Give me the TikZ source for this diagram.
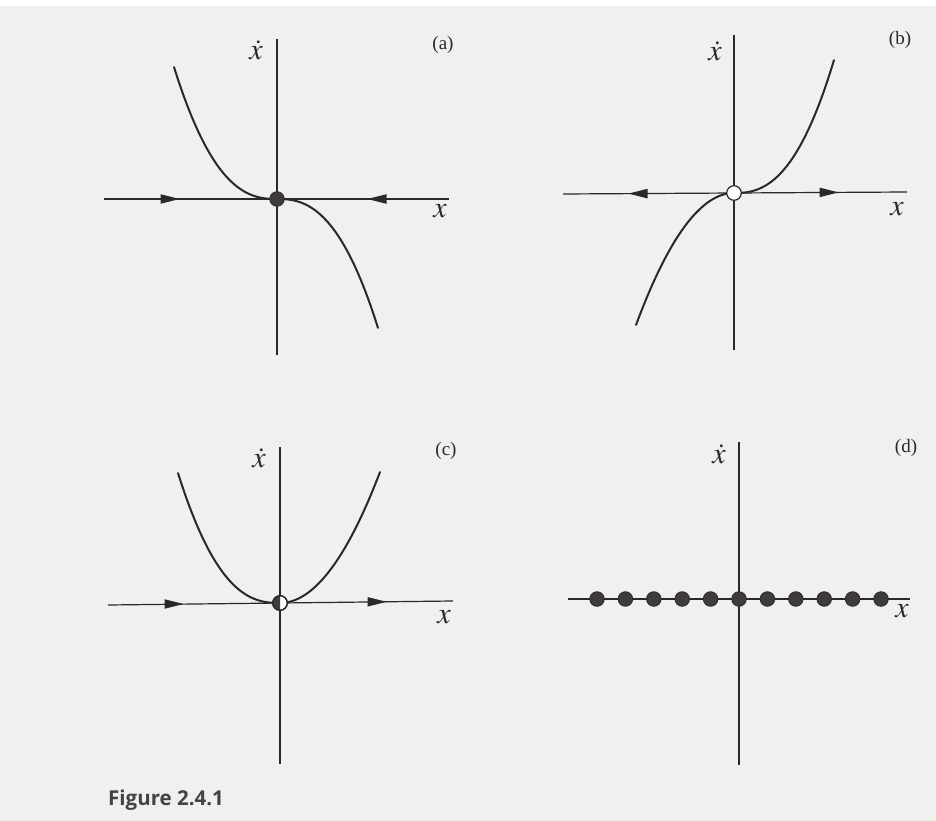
\documentclass[tikz,border=0pt]{standalone}
\usepackage{mathptmx}
\usepackage{fontspec}
\newfontfamily\capfont{Open Sans}
\newfontfamily\tagfont{Liberation Serif}
\definecolor{ink}{RGB}{42,40,42}
\definecolor{dotfill}{RGB}{62,58,62}
\definecolor{pagebg}{RGB}{240,240,238}
\definecolor{captext}{RGB}{68,66,68}
\begin{document}
\begin{tikzpicture}[x=1pt,y=-1pt,
  axis/.style={line width=1.2pt, draw=ink},
  curve/.style={line width=2pt, draw=ink, line cap=round},
  fullfp/.style={circle, inner sep=0pt, minimum size=14.6pt, fill=dotfill, draw=ink, line width=0.8pt},
  openfp/.style={circle, inner sep=0pt, minimum size=14.6pt, fill=white, draw=ink, line width=1.2pt},
  lbl/.style={inner sep=0pt, text=ink, font=\fontsize{30}{30}\selectfont},
  tag/.style={inner sep=0pt, text=ink, font=\tagfont\fontsize{19}{19}\selectfont},
  rarrow/.pic={\fill[ink] (-9.5,-4.8) -- (9.5,0) -- (-9.5,4.8) -- cycle;}
]
\useasboundingbox (0,0) rectangle (936,821);
\fill[pagebg] (0,0) rectangle (936,821);
\fill[white] (0,0) rectangle (936,6);

% ---------------- panel (a)
\draw[axis] (277,39) -- (277,355);
\draw[axis] (104,199) -- (449,199);
\draw[curve] plot[domain=0:1,samples=40,smooth] ({277-103*\x},{199-132*\x*\x*sqrt(\x)});
\draw[curve] plot[domain=0:1,samples=40,smooth] ({277+101*\x},{199+129*\x*\x*sqrt(\x)});
\pic at (170,199) {rarrow};
\pic[rotate=180] at (377,199) {rarrow};
\node[fullfp] (fpa) at (277,199) {};
\node[lbl] (xda) at (256,50) {$\dot{x}$};
\node[lbl] (xa) at (440,211) {$x$};
\node[tag] (ta) at (443,45) {(a)};

% ---------------- panel (b)
\draw[axis] (734,35) -- (734,350);
\draw[axis] (563,194) -- (907,192);
\draw[curve] plot[domain=0:1,samples=40,smooth] ({734+100*\x},{193-133*\x*\x*sqrt(\x)});
\draw[curve] plot[domain=0:1,samples=40,smooth] ({734-98*\x},{193+132*\x*\x});
\pic[rotate=180] at (638,193.6) {rarrow};
\pic at (829,192.4) {rarrow};
\node[openfp] (fpb) at (734,193) {};
\node[lbl] (xdb) at (715,51) {$\dot{x}$};
\node[lbl] (xb) at (897,209) {$x$};
\node[tag] (tb) at (900,40) {(b)};

% ---------------- panel (c)
\draw[axis] (280,447) -- (280,764);
\draw[axis] (108,605) -- (453,601);
\draw[curve] plot[domain=0:1,samples=40,smooth] ({280-102*\x},{603-130*\x*\x*sqrt(\x)});
\draw[curve] plot[domain=0:1,samples=40,smooth] ({280+100*\x},{603-131*\x*\x});
\pic at (174,604) {rarrow};
\pic at (377,601.8) {rarrow};
\node[openfp] (fpc) at (280,603) {};
\begin{scope}
  \clip (272,594) rectangle (280,612);
  \fill[dotfill] (fpc.center) circle (7.3);
\end{scope}
\draw[ink, line width=1.2pt] (fpc.center) circle (7.3);
\node[lbl] (xdc) at (259,458) {$\dot{x}$};
\node[lbl] (xc) at (444,617) {$x$};
\node[tag] (tc) at (446,451) {(c)};

% ---------------- panel (d)
\draw[axis] (739,442) -- (739,765);
\draw[axis] (568,599) -- (910,599);
\foreach \k in {-5,...,5} {
  \node[fullfp] (dd\k) at ({739+28.4*\k},599) {};
}
\node[lbl] (xdd) at (719,454) {$\dot{x}$};
\node[lbl] (xd) at (902,611) {$x$};
\node[tag] (td) at (906,448) {(d)};

% ---------------- caption
\node[anchor=west, inner sep=0pt, text=captext,
      font=\capfont\bfseries\fontsize{20.5}{21}\selectfont] (cap) at (108,800) {Figure 2.4.1};
\end{tikzpicture}
\end{document}
